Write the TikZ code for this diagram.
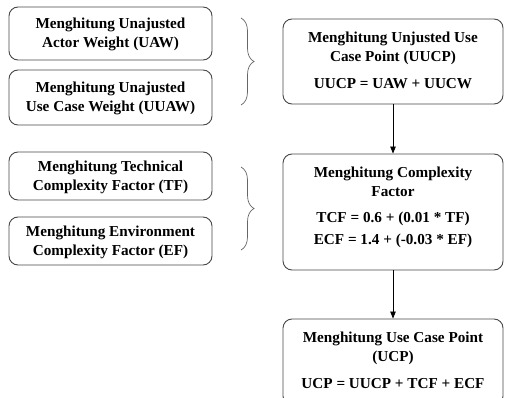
\documentclass[tikz,border=0pt]{standalone}
\usepackage{fontspec}
\setmainfont{Liberation Serif}
\usetikzlibrary{decorations.pathreplacing,arrows.meta}
\begin{document}
\begin{tikzpicture}[x=1pt,y=-1pt,
  frame/.style={draw=black!72, line width=0.9pt, rounded corners=9pt, inner sep=0pt},
  txt/.style={align=center, inner sep=0pt, font=\fontsize{15.2}{19}\selectfont\bfseries},
  arr/.style={line width=0.8pt, -{Triangle[length=7pt,width=5.5pt]}},
  brc/.style={draw=black!60, line width=0.7pt, decorate, decoration={brace, amplitude=13pt}}]
\useasboundingbox (0,0) rectangle (505,398);
% left boxes
\node[frame, minimum width=203pt, minimum height=53pt] (uaw) at (110.5,33.5) {};
\node[txt] (uawt) at (110.5,34.5) {Menghitung Unajusted\\Actor Weight (UAW)};
\node[frame, minimum width=203pt, minimum height=55pt] (uuaw) at (110.5,97.5) {};
\node[txt] (uuawt) at (110.5,98.5) {Menghitung Unajusted\\Use Case Weight (UUAW)};
\node[frame, minimum width=203pt, minimum height=48pt] (tf) at (110.5,176) {};
\node[txt] (tft) at (110.5,177) {Menghitung Technical\\Complexity Factor (TF)};
\node[frame, minimum width=203pt, minimum height=48pt] (ef) at (110.5,241) {};
\node[txt] (eft) at (110.5,242) {Menghitung Environment\\Complexity Factor (EF)};
% braces
\draw[brc] (241,18) -- (241,105);
\draw[brc] (241,167) -- (241,250);
% right boxes
\node[frame, minimum width=220pt, minimum height=85pt] (uucp) at (393,61.5) {};
\node[txt] (uucpt) at (393,60) {Menghitung Unjusted Use\\Case Point (UUCP)\\[8pt]UUCP = UAW + UUCW};
\node[frame, minimum width=220pt, minimum height=116pt] (cf) at (393,212) {};
\node[txt] (cft) at (393,207) {Menghitung Complexity\\Factor\\[7pt]TCF = 0.6 + (0.01 * TF)\\[3pt]ECF = 1.4 + (-0.03 * EF)};
\node[frame, minimum width=220pt, minimum height=86pt] (ucp) at (393,362) {};
\node[txt] (ucpt) at (393,360) {Menghitung Use Case Point\\(UCP)\\[8pt]UCP = UUCP + TCF + ECF};
% arrows
\draw[arr] (uucp.south) -- (cf.north);
\draw[arr] (cf.south) -- (ucp.north);
\end{tikzpicture}
\end{document}
